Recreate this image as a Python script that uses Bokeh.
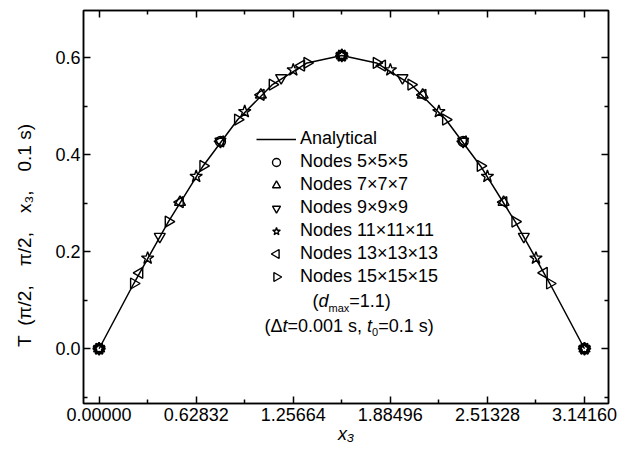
import math

from bokeh.embed import file_html
from bokeh.models import (CustomJSTickFormatter, FixedTicker, Label, Legend,
                          LegendItem, LinearAxis, Range1d)
from bokeh.plotting import figure
from bokeh.resources import INLINE

FONT = "Liberation Sans"

# ---------------------------------------------------------------------------
# Temperature T(pi/2, pi/2, x3, t = 0.1 s) along x3
# ---------------------------------------------------------------------------
x_analytical = [0.0, 0.2244, 0.4488, 0.6732, 0.8976, 1.1220, 1.3464, 1.5708,
                1.7952, 2.0196, 2.2440, 2.4684, 2.6928, 2.9172, 3.1416]
T_analytical = [0.0, 0.1346, 0.2625, 0.3772, 0.4730, 0.5451, 0.5898, 0.6050,
                0.5898, 0.5451, 0.4730, 0.3772, 0.2625, 0.1346, 0.0]

x_n5 = [0.0, 0.7854, 1.5708, 2.3562, 3.1416]
T_n5 = [0.0, 0.4278, 0.6050, 0.4278, 0.0]

x_n7 = [0.0, 0.5236, 1.0472, 1.5708, 2.0944, 2.6180, 3.1416]
T_n7 = [0.0, 0.3025, 0.5239, 0.6050, 0.5239, 0.3025, 0.0]

x_n9 = [0.0, 0.3927, 0.7854, 1.1781, 1.5708, 1.9635, 2.3562, 2.7489, 3.1416]
T_n9 = [0.0, 0.2315, 0.4278, 0.5590, 0.6050, 0.5590, 0.4278, 0.2315, 0.0]

x_n11 = [0.0, 0.3142, 0.6283, 0.9425, 1.2566, 1.5708, 1.8850, 2.1991,
         2.5133, 2.8274, 3.1416]
T_n11 = [0.0, 0.1870, 0.3556, 0.4894, 0.5754, 0.6050, 0.5754, 0.4894,
         0.3556, 0.1870, 0.0]

x_n13 = [0.0, 0.2618, 0.5236, 0.7854, 1.0472, 1.3090, 1.5708, 1.8326,
         2.0944, 2.3562, 2.6180, 2.8798, 3.1416]
T_n13 = [0.0, 0.1566, 0.3025, 0.4278, 0.5239, 0.5844, 0.6050, 0.5844,
         0.5239, 0.4278, 0.3025, 0.1566, 0.0]

x_n15 = [0.0, 0.2244, 0.4488, 0.6732, 0.8976, 1.1220, 1.3464, 1.5708,
         1.7952, 2.0196, 2.2440, 2.4684, 2.6928, 2.9172, 3.1416]
T_n15 = [0.0, 0.1346, 0.2625, 0.3772, 0.4730, 0.5451, 0.5898, 0.6050,
         0.5898, 0.5451, 0.4730, 0.3772, 0.2625, 0.1346, 0.0]

series_labels = ["Nodes 5×5×5", "Nodes 7×7×7", "Nodes 9×9×9",
                 "Nodes 11×11×11", "Nodes 13×13×13", "Nodes 15×15×15"]

x_ticks = [0.0, 0.62832, 1.25664, 1.88496, 2.51328, 3.1416]
x_tick_labels = ["0.00000", "0.62832", "1.25664", "1.88496", "2.51328", "3.14160"]
x_minor_ticks = [0.31416, 0.94248, 1.5708, 2.19912, 2.82744]
y_ticks = [0.0, 0.2, 0.4, 0.6]
y_tick_labels = ["0.0", "0.2", "0.4", "0.6"]
y_minor_ticks = [-0.1, 0.1, 0.3, 0.5]

# ---------------------------------------------------------------------------
# Figure geometry
# ---------------------------------------------------------------------------
X_RANGE = (-0.101, 3.297)
Y_RANGE = (-0.113, 0.698)
LEFT, TOP, FW, FH = 83, 10, 525, 393

p = figure(frame_width=FW, frame_height=FH,
           x_range=Range1d(*X_RANGE), y_range=Range1d(*Y_RANGE),
           output_backend="svg", toolbar_location=None,
           min_border_left=LEFT, min_border_right=617 - LEFT - FW,
           min_border_top=TOP, min_border_bottom=450 - TOP - FH,
           background_fill_color="white", border_fill_color="white",
           outline_line_color="black", outline_line_width=1.5)
p.grid.visible = False


def style_axis(ax, ticks, minor, labels=None):
    ax.ticker = FixedTicker(ticks=ticks, minor_ticks=minor)
    ax.axis_line_color = "black"
    ax.axis_line_width = 1.5
    ax.major_tick_line_width = 1.5
    ax.minor_tick_line_width = 1.5
    ax.major_tick_in, ax.major_tick_out = 7, 0
    ax.minor_tick_in, ax.minor_tick_out = 4, 0
    if labels is None:
        ax.formatter = CustomJSTickFormatter(code="return ''")
        ax.major_label_text_font_size = "0px"
        ax.major_label_standoff = 0
    else:
        ax.major_label_overrides = dict(zip(ticks, labels))
        ax.major_label_text_font = FONT
        ax.major_label_text_font_size = "18px"
        ax.major_label_text_color = "black"
        ax.axis_label_text_font = FONT
        ax.axis_label_text_color = "black"


xa = p.xaxis[0]
style_axis(xa, x_ticks, x_minor_ticks, x_tick_labels)
xa.major_label_standoff = 4
xa.axis_label = "x₃"
xa.axis_label_text_font_size = "18px"
xa.axis_label_text_font_style = "italic"
xa.axis_label_standoff = 0

ya = p.yaxis[0]
style_axis(ya, y_ticks, y_minor_ticks, y_tick_labels)
ya.major_label_standoff = 3
# wide gaps between the arguments; the trailing em spaces move the
# visible text towards the lower end of the axis
ya.axis_label = "T\u2002(π/2,\u2003π/2,\u2003x₃,\u20030.1 s)\u2003\u2003\u2003"
ya.axis_label_text_font_size = "19px"
ya.axis_label_text_font_style = "normal"
ya.axis_label_standoff = 17

top_axis = LinearAxis()
style_axis(top_axis, x_ticks, x_minor_ticks)
p.add_layout(top_axis, "above")
right_axis = LinearAxis()
style_axis(right_axis, y_ticks, y_minor_ticks)
p.add_layout(right_axis, "right")

# ---------------------------------------------------------------------------
# Curves
# ---------------------------------------------------------------------------
line_r = p.line(x_analytical, T_analytical, line_color="black", line_width=1.5)

mk = dict(fill_color=None, line_color="black", line_width=1.4)
LEFT_TRI, RIGHT_TRI = math.pi / 2, -math.pi / 2
r5 = p.scatter(x_n5, T_n5, marker="circle", size=10, **mk)
r7 = p.scatter(x_n7, T_n7, marker="triangle", size=11, **mk)
r9 = p.scatter(x_n9, T_n9, marker="inverted_triangle", size=11, **mk)
r11 = p.scatter(x_n11, T_n11, marker="star", size=13, **mk)
r13 = p.scatter(x_n13, T_n13, marker="triangle", angle=LEFT_TRI, size=11, **mk)
r15 = p.scatter(x_n15, T_n15, marker="triangle", angle=RIGHT_TRI, size=11, **mk)

# The legend cannot rotate marker keys, so the two sideways triangles get a
# blank key that is overdrawn by a rotated marker below.
blank = p.scatter([], [], marker="triangle", size=9, fill_alpha=0, line_alpha=0)

key_renderers = [r5, r7, r9, r11, blank, blank]
items = [LegendItem(label="Analytical", renderers=[line_r])]
for lab, r in zip(series_labels, key_renderers):
    items.append(LegendItem(label=lab, renderers=[r]))

LEG_X, LEG_BOTTOM, ROW, ITEM_H = 256, 287, 23, 21
legend = Legend(items=items, location=(LEG_X - LEFT, TOP + FH - LEG_BOTTOM),
                label_text_font=FONT, label_text_font_size="18px",
                label_text_color="black",
                label_height=20, glyph_height=20, glyph_width=40,
                spacing=ROW - ITEM_H, padding=0, margin=0, label_standoff=4,
                border_line_color=None, background_fill_alpha=0)
p.add_layout(legend)


def to_data(px, py):
    x = X_RANGE[0] + (px - LEFT) / FW * (X_RANGE[1] - X_RANGE[0])
    y = Y_RANGE[1] - (py - TOP) / FH * (Y_RANGE[1] - Y_RANGE[0])
    return x, y


last_row_y = LEG_BOTTOM - ITEM_H / 2
key_x, key13_y = to_data(LEG_X + 20, last_row_y - ROW)
_, key15_y = to_data(LEG_X + 20, last_row_y)
p.scatter([key_x], [key13_y], marker="triangle", angle=LEFT_TRI, size=9, **mk)
p.scatter([key_x], [key15_y], marker="triangle", angle=RIGHT_TRI, size=9, **mk)

# ---------------------------------------------------------------------------
# Rich-text notes under the legend (italics, subscripts)
# ---------------------------------------------------------------------------
ADV = {"T": 611, " ": 278, "(": 333, ")": 333, "π": 556, "/": 278, ",": 278,
       "x": 500, ".": 278, "s": 500, "d": 556, "m": 833, "a": 556, "=": 584,
       "Δ": 668, "t": 278}


def text_width(s, size):
    return sum(ADV.get(c, 556) for c in s) * size / 1000.0


def text_run(pieces, px, py):
    pos = 0.0
    for text, size, style, drop in pieces:
        x, y = to_data(px + pos, py + drop)
        p.add_layout(Label(x=x, y=y, text=text,
                           text_font=FONT, text_font_size=f"{size}px",
                           text_font_style=style, text_color="black",
                           text_align="left", text_baseline="middle"))
        pos += text_width(text, size)


text_run([("(", 18, "normal", 0), ("d", 18, "italic", 0),
          ("max", 11, "normal", 7), ("=1.1)", 18, "normal", 0)], 312, 300)
text_run([("(Δ", 18, "normal", 0), ("t", 18, "italic", 0),
          ("=0.001 s, ", 18, "normal", 0), ("t", 18, "italic", 0),
          ("0", 11, "normal", 6), ("=0.1 s)", 18, "normal", 0)], 264, 325)

open("out.html", "w").write(file_html(p, INLINE))
